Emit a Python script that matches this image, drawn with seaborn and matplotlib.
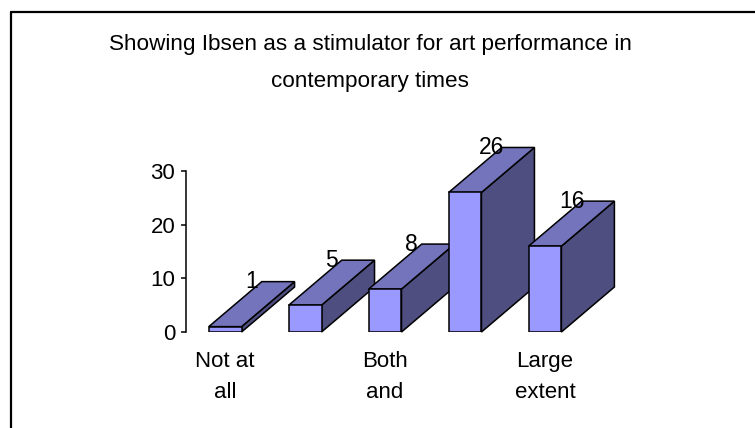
import matplotlib
matplotlib.use("Agg")
import matplotlib.pyplot as plt
import seaborn as sns
import numpy as np
import pandas as pd
from matplotlib.patches import Polygon
from matplotlib.lines import Line2D

# ---- data ----
categories = ["Not at all", "Small extent", "Both and", "Some extent", "Large extent"]
values = [1, 5, 8, 26, 16]
tick_labels = ["Not at\nall", "", "Both\nand", "", "Large\nextent"]
y_ticks = [0, 10, 20, 30]
title = "Showing Ibsen as a stimulator for art performance in\ncontemporary times"

FRONT = "#9999FF"
TOP = "#7474BC"
SIDE = "#4E4E80"

sns.set_style("white")
plt.rcParams["font.family"] = ["Liberation Sans", "DejaVu Sans"]

W, H = 755, 428
fig = plt.figure(figsize=(W / 100, H / 100), dpi=100)
fig.patch.set_facecolor("white")

ax_left, ax_right = 186, 585
ax_bottom, ax_top = 332, 171
ax = fig.add_axes([ax_left / W, 1 - ax_bottom / H, (ax_right - ax_left) / W, (ax_bottom - ax_top) / H])
ax.set_facecolor("none")

df = pd.DataFrame({"category": categories, "value": values})
sns.barplot(data=df, x="category", y="value", order=categories, color=FRONT, saturation=1,
            width=0.41, edgecolor="black", linewidth=1.1, ax=ax)

ax.set_xlim(-0.49, 4.5)
ax.set_ylim(0, 30)
ax.set_yticks(y_ticks)
ax.set_xticks(range(len(categories)))
ax.set_xticklabels(tick_labels, fontsize=16, linespacing=1.66)
ax.set_xlabel("")
ax.set_ylabel("")
for s in ["top", "right", "bottom"]:
    ax.spines[s].set_visible(False)
ax.spines["left"].set_linewidth(1.1)
ax.spines["left"].set_color("black")
ax.tick_params(axis="y", direction="out", length=3.8, width=1.1, pad=4, labelsize=16, left=True, colors="black")
ax.tick_params(axis="x", length=0, pad=13.5, colors="black")

# depth offset (pixels) converted to data units
fig.canvas.draw()
p0 = ax.transData.transform((0, 0))
p1 = ax.transData.transform((1, 1))
px_x = p1[0] - p0[0]
px_y = p1[1] - p0[1]
ddx = 53 / px_x
ddy = 45 / px_y

for i, (p, v) in enumerate(zip(ax.patches, values)):
    x0 = p.get_x()
    w = p.get_width()
    h = p.get_height()
    z = 3 + i
    p.set_zorder(z + 0.5)
    top = Polygon([(x0, h), (x0 + w, h), (x0 + w + ddx, h + ddy), (x0 + ddx, h + ddy)],
                  closed=True, facecolor=TOP, edgecolor="black", linewidth=1.1, clip_on=False, zorder=z)
    side = Polygon([(x0 + w, 0), (x0 + w + ddx, ddy), (x0 + w + ddx, h + ddy), (x0 + w, h)],
                   closed=True, facecolor=SIDE, edgecolor="black", linewidth=1.1, clip_on=False, zorder=z)
    ax.add_patch(side)
    ax.add_patch(top)
    ax.text(x0 + w / 2 + ddx / 2, h + ddy, str(v), ha="center", va="center", fontsize=16.5,
            color="black", zorder=20, clip_on=False)

fig.text(370 / W, 1 - 63 / H, title, ha="center", va="center", fontsize=16.2, linespacing=2.0, color="black")

# outer frame (left and top edges visible)
fig.add_artist(Line2D([11 / W, 11 / W], [0, 1 - 12 / H], color="black", linewidth=1.6))
fig.add_artist(Line2D([11 / W, 1], [1 - 12 / H, 1 - 12 / H], color="black", linewidth=1.6))

fig.savefig("out.png", dpi=100, facecolor="white")
